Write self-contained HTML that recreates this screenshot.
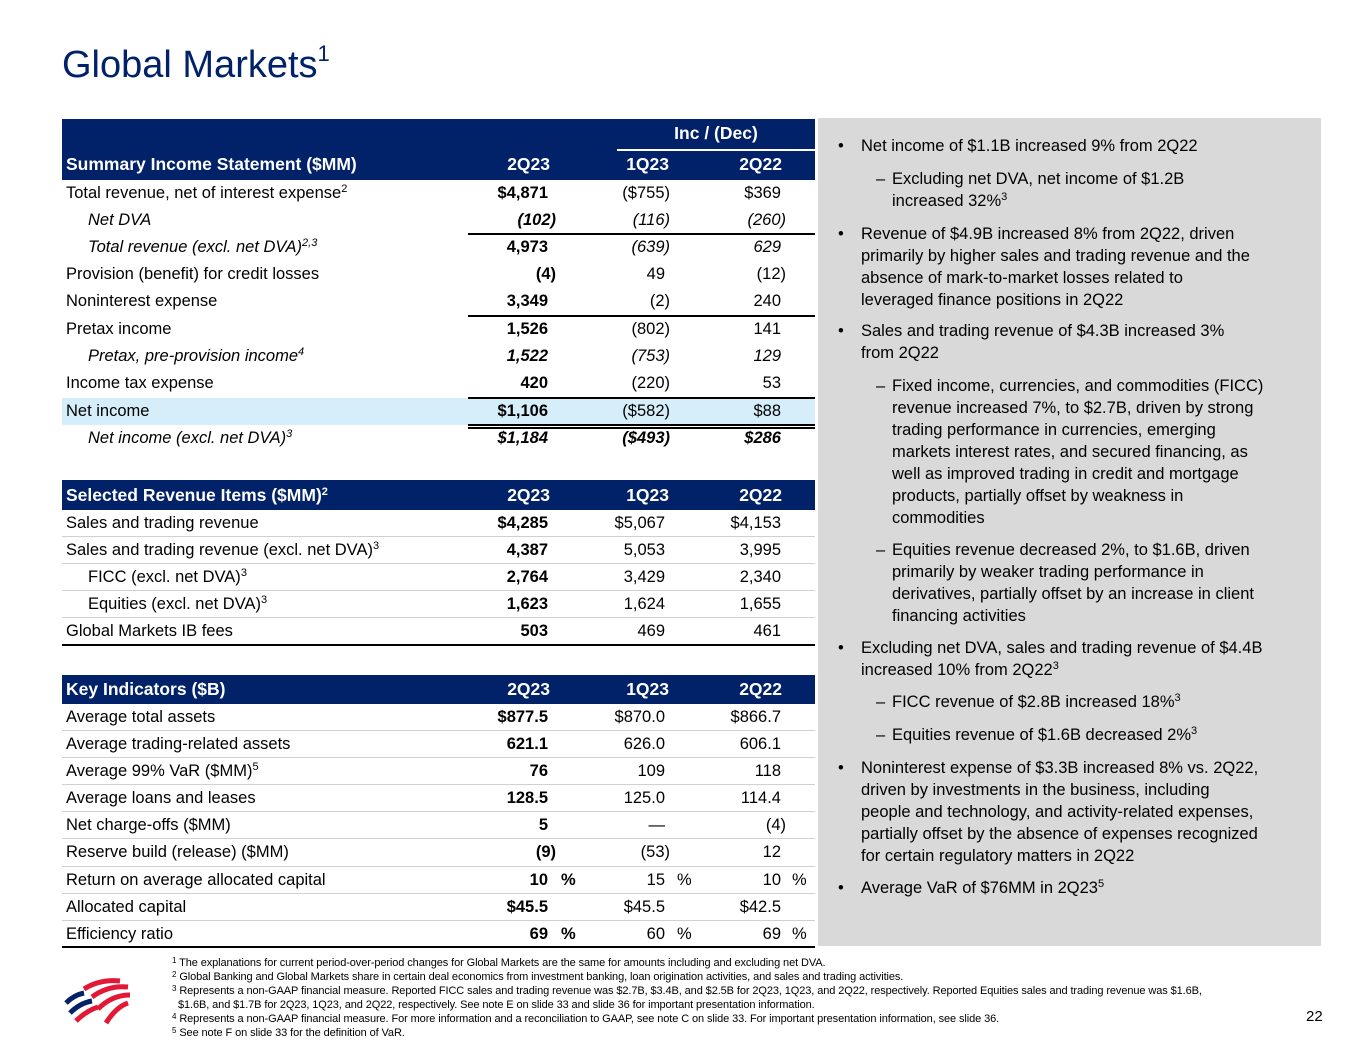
<!DOCTYPE html>
<html><head><meta charset="utf-8"><style>
*{margin:0;padding:0;box-sizing:border-box}
body{width:1365px;height:1055px;background:#fff;position:relative;overflow:hidden;font-family:"Liberation Sans",sans-serif;color:#000}
.a{position:absolute;white-space:nowrap}
.title{left:62px;top:44px;font-size:38px;color:#012169}
.title sup{font-size:22px;vertical-align:16px}
.hd{position:absolute;left:62px;width:753px;background:#012169;color:#fff;font-weight:bold;font-size:17.5px}
.r{position:absolute;left:62px;width:753px;height:27px;line-height:27px;font-size:16.5px}
.r span,.hd span{position:absolute;white-space:nowrap}
.l{left:4px}.li{left:26px;font-style:italic}
.c1{right:267px}.c1p{right:259px}.c2{right:150px}.c2p{right:145px}.c3{right:34px}.c3p{right:29px}
.b{font-weight:bold}.i{font-style:italic}
sup{font-size:11px;vertical-align:6px;line-height:0}
.sep{position:absolute;left:62px;width:753px;height:1px;background:#d0d0d0}
.ln{position:absolute;height:2px;background:#000}
.panel{position:absolute;left:818px;top:118px;width:503px;height:828px;background:#d9d9d9}
.t{position:absolute;font-size:16.5px;line-height:22px;color:#000;white-space:nowrap}
.t sup{font-size:11px;vertical-align:6px}
.fn{position:absolute;left:172px;font-size:11px;line-height:14px;white-space:nowrap;letter-spacing:-0.1px}
.fn sup{font-size:8px;vertical-align:3px}
</style></head><body>
<div class="a title">Global Markets<sup>1</sup></div>

<div class="hd" style="top:119px;height:61px">
<span style="left:555px;width:198px;text-align:center;top:4px">Inc / (Dec)</span>
<span style="left:555px;width:198px;top:30px;height:2px;background:#fff"></span>
<span style="left:4px;top:35px">Summary Income Statement ($MM)</span>
<span style="right:265px;top:35px">2Q23</span>
<span style="right:146px;top:35px">1Q23</span>
<span style="right:33px;top:35px">2Q22</span>
</div>
<div class="r" style="top:180px"><span class="l">Total revenue, net of interest expense<sup>2</sup></span><span class="c1 b">$4,871</span><span class="c2p">($755)</span><span class="c3">$369</span></div>
<div class="r" style="top:207px"><span class="li">Net DVA</span><span class="c1p b i">(102)</span><span class="c2p i">(116)</span><span class="c3p i">(260)</span></div>
<div class="ln" style="left:468px;width:347px;top:233px"></div>
<div class="r" style="top:234px"><span class="li">Total revenue (excl. net DVA)<sup>2,3</sup></span><span class="c1 b">4,973</span><span class="c2p i">(639)</span><span class="c3 i">629</span></div>
<div class="r" style="top:261px"><span class="l">Provision (benefit) for credit losses</span><span class="c1p b">(4)</span><span class="c2">49</span><span class="c3p">(12)</span></div>
<div class="r" style="top:288px"><span class="l">Noninterest expense</span><span class="c1 b">3,349</span><span class="c2p">(2)</span><span class="c3">240</span></div>
<div class="ln" style="left:468px;width:347px;top:315px"></div>
<div class="r" style="top:316px"><span class="l">Pretax income</span><span class="c1 b">1,526</span><span class="c2p">(802)</span><span class="c3">141</span></div>
<div class="r" style="top:343px"><span class="li">Pretax, pre-provision income<sup>4</sup></span><span class="c1 b i">1,522</span><span class="c2p i">(753)</span><span class="c3 i">129</span></div>
<div class="r" style="top:370px"><span class="l">Income tax expense</span><span class="c1 b">420</span><span class="c2p">(220)</span><span class="c3">53</span></div>
<div class="r" style="top:398px;background:#d5eefa"><span class="l">Net income</span><span class="c1 b">$1,106</span><span class="c2p">($582)</span><span class="c3">$88</span></div>
<div class="ln" style="left:468px;width:347px;top:397px"></div>
<div class="ln" style="left:468px;width:347px;top:424px;height:1.5px"></div>
<div class="ln" style="left:468px;width:347px;top:427px;height:1.5px"></div>
<div class="r" style="top:425px"><span class="li">Net income (excl. net DVA)<sup>3</sup></span><span class="c1 b i">$1,184</span><span class="c2p b i">($493)</span><span class="c3 b i">$286</span></div>

<div class="hd" style="top:480px;height:30px;line-height:30px">
<span style="left:4px">Selected Revenue Items ($MM)<sup>2</sup></span>
<span style="right:265px">2Q23</span><span style="right:146px">1Q23</span><span style="right:33px">2Q22</span></div>
<div class="r" style="top:510px"><span class="l">Sales and trading revenue</span><span class="c1 b">$4,285</span><span class="c2">$5,067</span><span class="c3">$4,153</span></div>
<div class="sep" style="top:536px"></div>
<div class="r" style="top:537px"><span class="l">Sales and trading revenue (excl. net DVA)<sup>3</sup></span><span class="c1 b">4,387</span><span class="c2">5,053</span><span class="c3">3,995</span></div>
<div class="sep" style="top:563px"></div>
<div class="r" style="top:564px"><span class="l" style="left:26px">FICC (excl. net DVA)<sup>3</sup></span><span class="c1 b">2,764</span><span class="c2">3,429</span><span class="c3">2,340</span></div>
<div class="sep" style="top:590px"></div>
<div class="r" style="top:591px"><span class="l" style="left:26px">Equities (excl. net DVA)<sup>3</sup></span><span class="c1 b">1,623</span><span class="c2">1,624</span><span class="c3">1,655</span></div>
<div class="sep" style="top:617px"></div>
<div class="r" style="top:618px"><span class="l">Global Markets IB fees</span><span class="c1 b">503</span><span class="c2">469</span><span class="c3">461</span></div>
<div class="ln" style="left:62px;width:753px;top:644px"></div>

<div class="hd" style="top:675px;height:29px;line-height:29px">
<span style="left:4px">Key Indicators ($B)</span>
<span style="right:265px">2Q23</span><span style="right:146px">1Q23</span><span style="right:33px">2Q22</span></div>
<div class="r" style="top:704px"><span class="l">Average total assets</span><span class="c1 b">$877.5</span><span class="c2">$870.0</span><span class="c3">$866.7</span></div>
<div class="sep" style="top:730px"></div>
<div class="r" style="top:731px"><span class="l">Average trading-related assets</span><span class="c1 b">621.1</span><span class="c2">626.0</span><span class="c3">606.1</span></div>
<div class="sep" style="top:757px"></div>
<div class="r" style="top:758px"><span class="l">Average 99% VaR ($MM)<sup>5</sup></span><span class="c1 b">76</span><span class="c2">109</span><span class="c3">118</span></div>
<div class="sep" style="top:784px"></div>
<div class="r" style="top:785px"><span class="l">Average loans and leases</span><span class="c1 b">128.5</span><span class="c2">125.0</span><span class="c3">114.4</span></div>
<div class="sep" style="top:811px"></div>
<div class="r" style="top:812px"><span class="l">Net charge-offs ($MM)</span><span class="c1 b">5</span><span class="c2">—</span><span class="c3p">(4)</span></div>
<div class="sep" style="top:838px"></div>
<div class="r" style="top:839px"><span class="l">Reserve build (release) ($MM)</span><span class="c1p b">(9)</span><span class="c2p">(53)</span><span class="c3">12</span></div>
<div class="sep" style="top:866px"></div>
<div class="r" style="top:867px"><span class="l">Return on average allocated capital</span><span class="c1 b">10</span><span class="b" style="left:499px">%</span><span class="c2">15</span><span style="left:615px">%</span><span class="c3">10</span><span style="left:730px">%</span></div>
<div class="sep" style="top:893px"></div>
<div class="r" style="top:894px"><span class="l">Allocated capital</span><span class="c1 b">$45.5</span><span class="c2">$45.5</span><span class="c3">$42.5</span></div>
<div class="sep" style="top:920px"></div>
<div class="r" style="top:921px"><span class="l">Efficiency ratio</span><span class="c1 b">69</span><span class="b" style="left:499px">%</span><span class="c2">60</span><span style="left:615px">%</span><span class="c3">69</span><span style="left:730px">%</span></div>
<div class="ln" style="left:62px;width:753px;top:946px"></div>

<div class="panel"></div>
<div class="t" style="left:838px;top:135px">•</div><div class="t" style="left:861px;top:135px">Net income of $1.1B increased 9% from 2Q22</div>
<div class="t" style="left:876px;top:168px">–</div><div class="t" style="left:892px;top:168px">Excluding net DVA, net income of $1.2B<br>increased 32%<sup>3</sup></div>
<div class="t" style="left:838px;top:223px">•</div><div class="t" style="left:861px;top:223px">Revenue of $4.9B increased 8% from 2Q22, driven<br>primarily by higher sales and trading revenue and the<br>absence of mark-to-market losses related to<br>leveraged finance positions in 2Q22</div>
<div class="t" style="left:838px;top:320px">•</div><div class="t" style="left:861px;top:320px">Sales and trading revenue of $4.3B increased 3%<br>from 2Q22</div>
<div class="t" style="left:876px;top:375px">–</div><div class="t" style="left:892px;top:375px">Fixed income, currencies, and commodities (FICC)<br>revenue increased 7%, to $2.7B, driven by strong<br>trading performance in currencies, emerging<br>markets interest rates, and secured financing, as<br>well as improved trading in credit and mortgage<br>products, partially offset by weakness in<br>commodities</div>
<div class="t" style="left:876px;top:539px">–</div><div class="t" style="left:892px;top:539px">Equities revenue decreased 2%, to $1.6B, driven<br>primarily by weaker trading performance in<br>derivatives, partially offset by an increase in client<br>financing activities</div>
<div class="t" style="left:838px;top:637px">•</div><div class="t" style="left:861px;top:637px">Excluding net DVA, sales and trading revenue of $4.4B<br>increased 10% from 2Q22<sup>3</sup></div>
<div class="t" style="left:876px;top:691px">–</div><div class="t" style="left:892px;top:691px">FICC revenue of $2.8B increased 18%<sup>3</sup></div>
<div class="t" style="left:876px;top:724px">–</div><div class="t" style="left:892px;top:724px">Equities revenue of $1.6B decreased 2%<sup>3</sup></div>
<div class="t" style="left:838px;top:757px">•</div><div class="t" style="left:861px;top:757px">Noninterest expense of $3.3B increased 8% vs. 2Q22,<br>driven by investments in the business, including<br>people and technology, and activity-related expenses,<br>partially offset by the absence of expenses recognized<br>for certain regulatory matters in 2Q22</div>
<div class="t" style="left:838px;top:877px">•</div><div class="t" style="left:861px;top:877px">Average VaR of $76MM in 2Q23<sup>5</sup></div>

<svg class="a" style="left:62px;top:975px" width="70" height="60" viewBox="0 0 70 60">
<g stroke-width="5" fill="none" stroke-linecap="butt">
<path d="M22 14 Q38 4 58 6" stroke="#e31837"/>
<path d="M30 22 Q46 10 66 12" stroke="#e31837"/>
<path d="M36 34 Q50 20 68 20" stroke="#e31837"/>
<path d="M44 48 Q54 32 66 28" stroke="#e31837"/>
<path d="M4 28 Q12 20 22 18" stroke="#012169"/>
<path d="M8 38 Q18 28 30 26" stroke="#012169"/>
<path d="M14 46 Q24 36 36 32" stroke="#e31837"/>
</g></svg>

<div class="fn" style="top:956px"><sup>1</sup> The explanations for current period-over-period changes for Global Markets are the same for amounts including and excluding net DVA.</div>
<div class="fn" style="top:970px"><sup>2</sup> Global Banking and Global Markets share in certain deal economics from investment banking, loan origination activities, and sales and trading activities.</div>
<div class="fn" style="top:984px"><sup>3</sup> Represents a non-GAAP financial measure. Reported FICC sales and trading revenue was $2.7B, $3.4B, and $2.5B for 2Q23, 1Q23, and 2Q22, respectively. Reported Equities sales and trading revenue was $1.6B,</div>
<div class="fn" style="top:998px;left:178px">$1.6B, and $1.7B for 2Q23, 1Q23, and 2Q22, respectively. See note E on slide 33 and slide 36 for important presentation information.</div>
<div class="fn" style="top:1012px"><sup>4</sup> Represents a non-GAAP financial measure. For more information and a reconciliation to GAAP, see note C on slide 33. For important presentation information, see slide 36.</div>
<div class="fn" style="top:1026px"><sup>5</sup> See note F on slide 33 for the definition of VaR.</div>
<div class="a" style="left:1306px;top:1008px;font-size:15px">22</div>
</body></html>
